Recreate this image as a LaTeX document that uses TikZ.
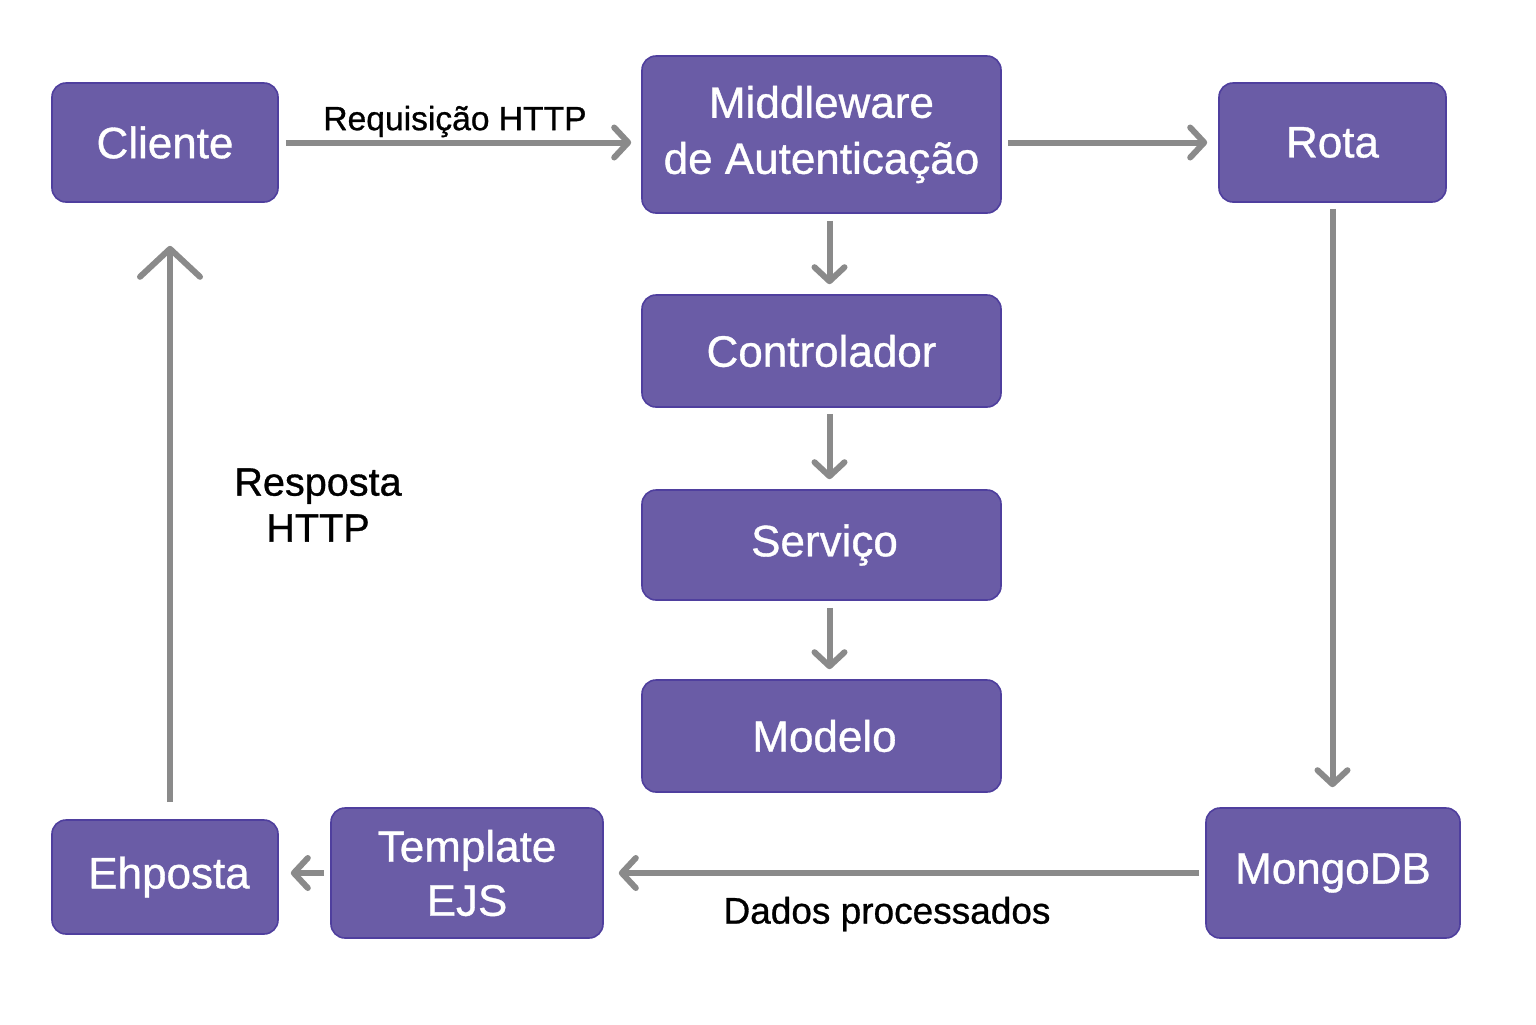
\documentclass[tikz,border=0pt]{standalone}
\usepackage{fontspec}
\setmainfont{Liberation Sans}[FakeBold=0.8]
\usetikzlibrary{arrows.meta,calc}
\definecolor{boxfill}{HTML}{6A5CA6}
\definecolor{boxline}{HTML}{4F3F9E}
\definecolor{arrowgray}{HTML}{8A8A8A}
\tikzset{
	box/.style={draw=boxline, line width=0.8pt, fill=boxfill, rounded corners=7pt, text=white, align=center, inner sep=0pt, font=\fontsize{22}{28}\selectfont},
	flow/.style={draw=arrowgray, line width=3pt, -{Straight Barb[length=7pt,width=15pt,line cap=round,line join=round]}},
	lbl/.style={text=black, align=center, inner sep=0pt}
}
\begin{document}
\begin{tikzpicture}[x=0.5pt, y=-0.5pt, line join=round]
	\fill[white] (0,0) rectangle (1536,1024);
	\useasboundingbox (0,0) rectangle (1536,1024);
	% boxes
	\node[box, minimum width=113pt, minimum height=59.5pt] (cliente) at (165,142.5) {Cliente};
	\node[box, minimum width=179.5pt, minimum height=78.5pt] (middleware) at (821.5,134.5) {Middleware\\de Autenticação};
	\node[box, minimum width=113.5pt, minimum height=59.5pt] (rota) at (1332.5,142.5) {Rota};
	\node[box, minimum width=179.5pt, minimum height=56pt] (controlador) at (821.5,351) {Controlador};
	\node[box, minimum width=179.5pt, minimum height=55pt] (servico) at (821.5,545) {\hspace*{3pt}Serviço};
	\node[box, minimum width=179.5pt, minimum height=56pt] (modelo) at (821.5,736) {\hspace*{3pt}Modelo};
	\node[box, minimum width=113pt, minimum height=57pt] (resposta) at (165,877) {\hspace*{4pt}Ehposta};
	\node[box, minimum width=136pt, minimum height=65pt, font=\fontsize{22}{27}\selectfont] (template) at (467,873) {Template\\EJS};
	\node[box, minimum width=127pt, minimum height=65pt] (mongo) at (1333,873) {MongoDB};
	% labels
	\node[lbl, font=\fontsize{16.8}{20}\selectfont] (lreq) at (455,121.5) {Requisição HTTP};
	\node[lbl, font=\fontsize{19.8}{23}\selectfont] (lresp) at (318,505) {Resposta\\HTTP};
	\node[lbl, font=\fontsize{18.5}{22}\selectfont] (ldados) at (887,914) {Dados processados};
	% connectors
	\draw[flow, shorten <=3.5pt, shorten >=5pt] (cliente.east) -- (cliente.east -| middleware.west);
	\draw[flow, shorten <=3pt, shorten >=5.5pt] (middleware.east |- rota.west) -- (rota.west);
	\draw[flow, shorten <=3.5pt, shorten >=5pt] ($(middleware.south)+(8,0)$) -- ($(controlador.north)+(8,0)$);
	\draw[flow, shorten <=3pt, shorten >=5pt] ($(controlador.south)+(8,0)$) -- ($(servico.north)+(8,0)$);
	\draw[flow, shorten <=3.5pt, shorten >=5pt] ($(servico.south)+(8,0)$) -- ($(modelo.north)+(8,0)$);
	\draw[flow, shorten <=3pt, shorten >=10pt] (rota.south) -- (rota.south |- mongo.north);
	\draw[flow, shorten <=3pt, shorten >=7.5pt] (mongo.west) -- (template.east);
	\draw[flow, shorten <=3pt, shorten >=6pt] (template.west) -- (template.west -| resposta.east);
	\draw[flow, shorten <=8.5pt, shorten >=21.5pt, -{Straight Barb[length=14pt,width=30pt,line cap=round,line join=round]}] ($(resposta.north)+(5,0)$) -- ($(cliente.south)+(5,0)$);
\end{tikzpicture}
\end{document}
